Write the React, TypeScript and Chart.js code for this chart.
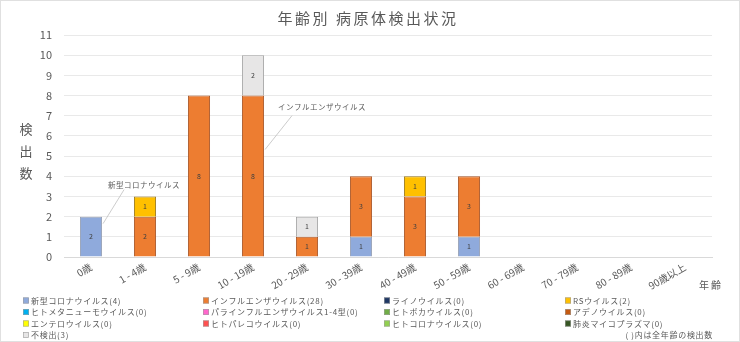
import { useEffect, useRef } from 'react';
import { Chart, registerables } from 'chart.js';

Chart.register(...registerables);

const FONT = "'Noto Sans CJK JP', 'Noto Sans', sans-serif";

const categories = ['0歳', '1 - 4歳', '5 - 9歳', '10 - 19歳', '20 - 29歳', '30 - 39歳', '40 - 49歳', '50 - 59歳', '60 - 69歳', '70 - 79歳', '80 - 89歳', '90歳以上'];

const seriesNames = [
  '新型コロナウイルス', 'インフルエンザウイルス', 'ライノウイルス', 'RSウイルス',
  'ヒトメタニューモウイルス', 'パラインフルエンザウイルス1-4型', 'ヒトボカウイルス', 'アデノウイルス',
  'エンテロウイルス', 'ヒトパレコウイルス', 'ヒトコロナウイルス', '肺炎マイコプラズマ',
  '不検出',
];

const seriesColors = [
  '#8faadc', '#ed7d31', '#1f3864', '#ffc000',
  '#00b0f0', '#ff66cc', '#70ad47', '#c55a11',
  '#ffff00', '#ff5050', '#92d050', '#375623',
  '#e7e6e6',
];

const seriesBorders = [
  '#98a2b6', '#a9582a', '#1f3864', '#9a7a20',
  '#00b0f0', '#ff66cc', '#70ad47', '#c55a11',
  '#a0a000', '#ff5050', '#92d050', '#375623',
  '#a6a6a6',
];

const covid = [2, 0, 0, 0, 0, 1, 0, 1, 0, 0, 0, 0];
const influenza = [0, 2, 8, 8, 1, 3, 3, 3, 0, 0, 0, 0];
const rhino = [0, 0, 0, 0, 0, 0, 0, 0, 0, 0, 0, 0];
const rsv = [0, 1, 0, 0, 0, 0, 1, 0, 0, 0, 0, 0];
const hmpv = [0, 0, 0, 0, 0, 0, 0, 0, 0, 0, 0, 0];
const parainfluenza = [0, 0, 0, 0, 0, 0, 0, 0, 0, 0, 0, 0];
const bocavirus = [0, 0, 0, 0, 0, 0, 0, 0, 0, 0, 0, 0];
const adenovirus = [0, 0, 0, 0, 0, 0, 0, 0, 0, 0, 0, 0];
const enterovirus = [0, 0, 0, 0, 0, 0, 0, 0, 0, 0, 0, 0];
const parechovirus = [0, 0, 0, 0, 0, 0, 0, 0, 0, 0, 0, 0];
const hcov = [0, 0, 0, 0, 0, 0, 0, 0, 0, 0, 0, 0];
const mycoplasma = [0, 0, 0, 0, 0, 0, 0, 0, 0, 0, 0, 0];
const notDetected = [0, 0, 0, 2, 1, 0, 0, 0, 0, 0, 0, 0];

const seriesValues = [covid, influenza, rhino, rsv, hmpv, parainfluenza, bocavirus, adenovirus, enterovirus, parechovirus, hcov, mycoplasma, notDetected];

const yMax = 11;
const titleText = '年齢別 病原体検出状況';
const yTitleText = '検出数';
const xTitleText = '年齢';
const noteText = '( )内は全年齢の検出数';

// callouts: dataset index, category index, text
const callouts = [
  { ds: 0, idx: 0, text: '新型コロナウイルス', ay: 7, lx: 21, ly: -34, tx: 5, ty: -38 },
  { ds: 1, idx: 3, text: 'インフルエンザウイルス', ay: 54, lx: 27, ly: -34, tx: 13, ty: -42 },
];

const legendCols = [23, 203, 384, 565];
const legendRows = [300.5, 312, 323.5, 335];

const decorPlugin = {
  id: 'decor',
  beforeDraw(chart: any) {
    const ctx = chart.ctx;
    ctx.save();
    ctx.fillStyle = '#ffffff';
    ctx.fillRect(0, 0, chart.width, chart.height);
    ctx.restore();
  },
  afterDraw(chart: any) {
    const ctx = chart.ctx as CanvasRenderingContext2D;
    ctx.save();
    // border
    ctx.strokeStyle = '#e0e0e0';
    ctx.lineWidth = 1;
    ctx.strokeRect(0.5, 0.5, chart.width - 1, chart.height - 1);

    // title
    ctx.fillStyle = '#595959';
    ctx.font = `15px ${FONT}`;
    (ctx as any).letterSpacing = '2.5px';
    ctx.textAlign = 'center';
    ctx.textBaseline = 'middle';
    ctx.fillText(titleText, 368, 18);

    // y title (vertical stacked)
    (ctx as any).letterSpacing = '0px';
    ctx.font = `13px ${FONT}`;
    const chars = Array.from(yTitleText);
    chars.forEach((c, i) => ctx.fillText(c, 26, 129 + i * 22));

    // x title
    ctx.font = `10px ${FONT}`;
    (ctx as any).letterSpacing = '2px';
    ctx.fillText(xTitleText, 711, 285);

    // data labels
    (ctx as any).letterSpacing = '0px';
    ctx.font = `7px ${FONT}`;
    ctx.fillStyle = '#404040';
    chart.data.datasets.forEach((ds: any, di: number) => {
      const meta = chart.getDatasetMeta(di);
      meta.data.forEach((el: any, i: number) => {
        const v = ds.data[i];
        if (!v) return;
        ctx.fillText(String(v), el.x, (el.y + el.base) / 2);
      });
    });

    // callouts
    ctx.font = `7.5px ${FONT}`;
    (ctx as any).letterSpacing = '0.5px';
    callouts.forEach((c) => {
      const el: any = chart.getDatasetMeta(c.ds).data[c.idx];
      const ax = el.x + el.width / 2 + 1;
      const ay = el.y + c.ay;
      ctx.strokeStyle = '#bfbfbf';
      ctx.lineWidth = 0.8;
      ctx.beginPath();
      ctx.moveTo(ax, ay);
      ctx.lineTo(ax + c.lx, ay + c.ly);
      ctx.stroke();
      ctx.fillStyle = '#595959';
      ctx.textAlign = 'left';
      ctx.fillText(c.text, ax + c.tx, ay + c.ty);
    });

    // legend
    ctx.font = `8px ${FONT}`;
    (ctx as any).letterSpacing = '0.7px';
    ctx.textAlign = 'left';
    ctx.textBaseline = 'middle';
    seriesNames.forEach((name, i) => {
      const col = i % 4;
      const row = Math.floor(i / 4);
      const x = legendCols[col];
      const y = legendRows[row];
      const total = seriesValues[i].reduce((a, b) => a + b, 0);
      ctx.fillStyle = seriesColors[i];
      ctx.fillRect(x, y - 3, 6, 6);
      ctx.strokeStyle = '#a0a0a0';
      ctx.lineWidth = 0.6;
      ctx.strokeRect(x + 0.3, y - 2.7, 5.4, 5.4);
      ctx.fillStyle = '#595959';
      ctx.fillText(`${name}(${total})`, x + 8, y);
    });

    // note
    ctx.textAlign = 'right';
    ctx.fillText(noteText, 713, 335);
    ctx.restore();
  },
};

export default function App() {
  const ref = useRef<HTMLCanvasElement>(null);
  useEffect(() => {
    if (!ref.current) return;
    const chart = new Chart(ref.current, {
      type: 'bar',
      data: {
        labels: categories,
        datasets: seriesNames.map((name, i) => ({
          label: name,
          data: seriesValues[i],
          backgroundColor: seriesColors[i],
          borderColor: seriesBorders[i],
          borderWidth: 1,
          barPercentage: 0.41,
          categoryPercentage: 1,
        })),
      },
      options: {
        responsive: false,
        animation: false,
        devicePixelRatio: 1,
        layout: { padding: { top: 35, left: 34, right: 28, bottom: 0 } },
        plugins: {
          legend: { display: false },
          title: { display: false },
          tooltip: { enabled: false },
        },
        scales: {
          x: {
            stacked: true,
            grid: { display: false, drawTicks: false },
            border: { display: true, color: '#d9d9d9' },
            ticks: {
              color: '#595959',
              font: { family: FONT, size: 10 },
              minRotation: 30,
              maxRotation: 30,
              padding: 4,
              autoSkip: false,
            },
            afterFit: (scale: any) => { scale.height = 85; },
          },
          y: {
            stacked: true,
            min: 0,
            max: yMax,
            grid: { color: '#e9e9e9', drawTicks: false },
            border: { display: false },
            ticks: {
              stepSize: 1,
              color: '#595959',
              font: { family: FONT, size: 11 },
              padding: 12,
            },
            afterFit: (scale: any) => { scale.width = 30; },
          },
        },
      },
      plugins: [decorPlugin],
    });
    return () => chart.destroy();
  }, []);
  return (
    <div style={{ position: 'absolute', left: 0, top: 0, width: 740, height: 342 }}>
      <canvas ref={ref} width={740} height={342} />
    </div>
  );
}
